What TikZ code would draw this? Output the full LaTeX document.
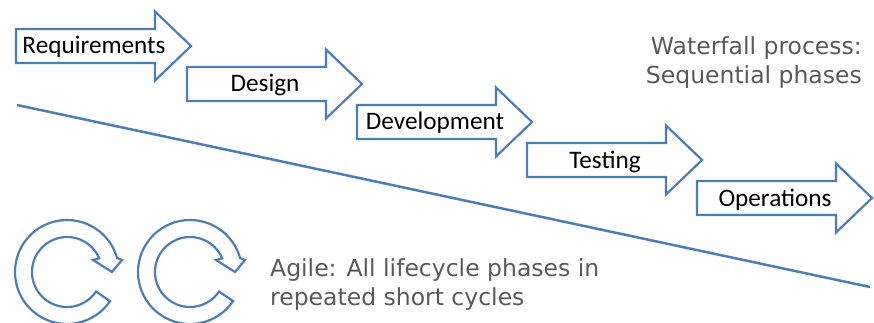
\documentclass[tikz,border=0pt]{standalone}
\usepackage{fontspec}
\setmainfont{Carlito}
\newfontfamily\grayfont{DejaVu Sans}
\definecolor{arrowblue}{HTML}{4A7EBB}
\definecolor{textgray}{HTML}{595959}
\tikzset{
  blockline/.style={draw=arrowblue, line width=2.2pt, line join=miter, fill=white},
  divider/.style={draw=arrowblue, line width=2.5pt},
  boxtext/.style={font=\fontsize{25.2}{30}\selectfont, text=black, anchor=base, inner sep=0pt},
  graytext/.style={font=\grayfont\fontsize{23.5}{29}\selectfont, text=textgray, inner sep=0pt},
}
\newcommand\blockarrow[4]{%
  \draw[blockline] (#1,#2-17) -- (#1+139,#2-17) -- (#1+139,#2-34.5) -- (#1+175,#2)
     -- (#1+139,#2+34.5) -- (#1+139,#2+17) -- (#1,#2+17) -- cycle;
  \node[boxtext] (#3) at (#1+78,#2+8) {#4};}
\newcommand\cyclearrow[2]{%
  \begin{scope}[shift={(#1,#2)}]
    \draw[blockline, fill=none] (34:52) arc[start angle=34, end angle=344.4, radius=52]
      -- (55,-12) -- (45,0) -- (26,-12) -- (337:35)
      arc[start angle=337, end angle=34, radius=35] -- cycle;
  \end{scope}}
\begin{document}
\begin{tikzpicture}[x=1pt, y=-1pt]
  \useasboundingbox (0,0) rectangle (874,323);
  \clip (0,0) rectangle (874,323);
  \coordinate (lineA) at (17,105);
  \coordinate (lineB) at (870,287);
  \draw[divider] (lineA) -- (lineB);
  \blockarrow{16}{46}{req}{Requirements}
  \blockarrow{187}{84}{des}{Design}
  \blockarrow{357}{122}{dev}{Development}
  \blockarrow{527}{160}{tst}{Testing}
  \blockarrow{697}{198}{ops}{Operations}
  \node[graytext, anchor=base east] (wf1) at (862,55) {Waterfall process:};
  \node[graytext, anchor=base east] (wf2) at (862,84) {Sequential phases};
  \node[graytext, anchor=base west] (ag1) at (270,276) {Agile: All lifecycle phases in};
  \node[graytext, anchor=base west] (ag2) at (270,305) {repeated short cycles};
  \cyclearrow{67}{272}
  \cyclearrow{190}{272}
\end{tikzpicture}
\end{document}
